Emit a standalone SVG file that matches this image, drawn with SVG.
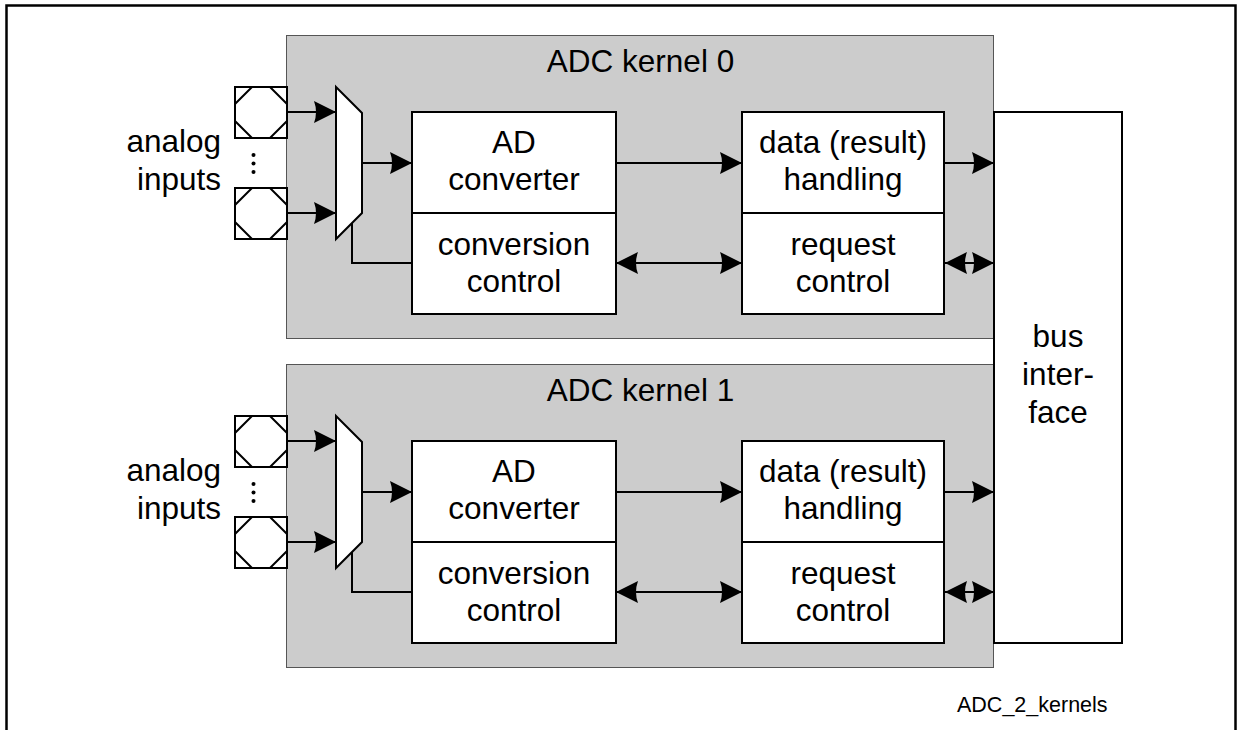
<svg xmlns="http://www.w3.org/2000/svg" width="1241" height="730" viewBox="0 0 1241 730">
<style>
.t{font-family:"Liberation Sans",Arial,sans-serif;font-size:31.5px;fill:#000;text-anchor:middle}
.box{fill:#fff;stroke:#000;stroke-width:2}
.kern{fill:#cccccc;stroke:#555;stroke-width:1}
.ln{fill:none;stroke:#000;stroke-width:2}
.arr{marker-end:url(#ah)}
.darr{marker-end:url(#ah);marker-start:url(#ah)}
</style>
<defs>
<marker id="ah" viewBox="0 0 22 22" refX="22" refY="11" markerWidth="22" markerHeight="22" markerUnits="userSpaceOnUse" orient="auto-start-reverse">
<path d="M22,11 L0,0 Q4,11 0,22 Z" fill="#000"/>
</marker>
</defs>
<rect x="0" y="0" width="1241" height="730" fill="#fff"/>
<rect id="frame" x="6.5" y="5.5" width="1229" height="800" fill="none" stroke="#000" stroke-width="2.5"/>

<g id="kernel0">
<rect class="kern" x="286.5" y="35.5" width="707" height="303"/>
<text class="t" x="640.5" y="71.5">ADC kernel 0</text>
</g>
<g id="kernel1">
<rect class="kern" x="286.5" y="364.5" width="707" height="303"/>
<text class="t" x="640.5" y="400.5">ADC kernel 1</text>
</g>

<g id="inputs0-label"><text class="t" x="221" y="151.5" style="text-anchor:end">analog</text><text class="t" x="221" y="190" style="text-anchor:end">inputs</text></g>
<g id="inputs1-label"><text class="t" x="221" y="480.5" style="text-anchor:end">analog</text><text class="t" x="221" y="519" style="text-anchor:end">inputs</text></g>

<g id="pad0a"><rect class="box" x="235" y="87" width="52" height="51"/><polygon class="box" points="252,87 270,87 287,104 287,121 270,138 252,138 235,121 235,104"/></g>
<g id="pad0b"><rect class="box" x="235" y="188" width="52" height="51"/><polygon class="box" points="252,188 270,188 287,205 287,222 270,239 252,239 235,222 235,205"/></g>
<g id="dots0"><circle cx="253.5" cy="155" r="2"/><circle cx="253.5" cy="163.5" r="2"/><circle cx="253.5" cy="172" r="2"/></g>
<g id="pad1a"><rect class="box" x="235" y="416" width="52" height="51"/><polygon class="box" points="252,416 270,416 287,433 287,450 270,467 252,467 235,450 235,433"/></g>
<g id="pad1b"><rect class="box" x="235" y="517" width="52" height="51"/><polygon class="box" points="252,517 270,517 287,534 287,551 270,568 252,568 235,551 235,534"/></g>
<g id="dots1"><circle cx="253.5" cy="484" r="2"/><circle cx="253.5" cy="492.5" r="2"/><circle cx="253.5" cy="501" r="2"/></g>

<g id="mux0"><polygon class="box" points="336,87 362,113 362,213 336,239"/></g>
<g id="mux1"><polygon class="box" points="336,416 362,442 362,542 336,568"/></g>

<g id="adconv0"><rect class="box" x="412" y="112" width="204" height="101"/><text class="t" x="514" y="153">AD</text><text class="t" x="514" y="190">converter</text></g>
<g id="convctrl0"><rect class="box" x="412" y="213" width="204" height="101"/><text class="t" x="514" y="255">conversion</text><text class="t" x="514" y="291.5">control</text></g>
<g id="data0"><rect class="box" x="742" y="112" width="202" height="101"/><text class="t" x="843" y="152.5">data (result)</text><text class="t" x="843" y="190">handling</text></g>
<g id="req0"><rect class="box" x="742" y="213" width="202" height="101"/><text class="t" x="843" y="255">request</text><text class="t" x="843" y="291.5">control</text></g>

<g id="adconv1"><rect class="box" x="412" y="441" width="204" height="101"/><text class="t" x="514" y="482">AD</text><text class="t" x="514" y="519">converter</text></g>
<g id="convctrl1"><rect class="box" x="412" y="542" width="204" height="101"/><text class="t" x="514" y="584">conversion</text><text class="t" x="514" y="620.5">control</text></g>
<g id="data1"><rect class="box" x="742" y="441" width="202" height="101"/><text class="t" x="843" y="481.5">data (result)</text><text class="t" x="843" y="519">handling</text></g>
<g id="req1"><rect class="box" x="742" y="542" width="202" height="101"/><text class="t" x="843" y="584">request</text><text class="t" x="843" y="620.5">control</text></g>

<g id="bus"><rect class="box" x="994" y="112" width="128" height="531"/><text class="t" x="1058" y="346.5">bus</text><text class="t" x="1058" y="385">inter-</text><text class="t" x="1058" y="423">face</text></g>

<g id="connectors">
<line class="ln arr" x1="287" y1="112" x2="336" y2="112"/>
<line class="ln arr" x1="287" y1="213" x2="336" y2="213"/>
<line class="ln arr" x1="362" y1="163" x2="412" y2="163"/>
<polyline class="ln" points="352,223 352,263 412,263"/>
<line class="ln arr" x1="616" y1="163" x2="742" y2="163"/>
<line class="ln darr" x1="616" y1="263" x2="742" y2="263"/>
<line class="ln arr" x1="944" y1="163" x2="994" y2="163"/>
<line class="ln darr" x1="945" y1="263" x2="994" y2="263"/>

<line class="ln arr" x1="287" y1="441" x2="336" y2="441"/>
<line class="ln arr" x1="287" y1="542" x2="336" y2="542"/>
<line class="ln arr" x1="362" y1="492" x2="412" y2="492"/>
<polyline class="ln" points="352,552 352,592 412,592"/>
<line class="ln arr" x1="616" y1="492" x2="742" y2="492"/>
<line class="ln darr" x1="616" y1="592" x2="742" y2="592"/>
<line class="ln arr" x1="944" y1="492" x2="994" y2="492"/>
<line class="ln darr" x1="945" y1="592" x2="994" y2="592"/>
</g>

<text x="957" y="711.5" style="font-family:'Liberation Sans',Arial,sans-serif;font-size:21.5px;fill:#000">ADC_2_kernels</text>
</svg>
